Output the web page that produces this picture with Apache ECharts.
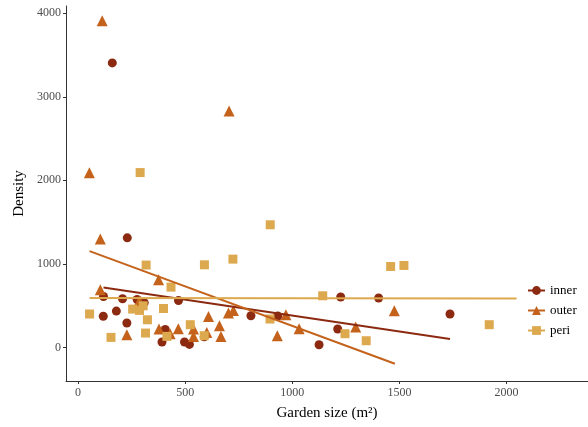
<!DOCTYPE html>
<html><head><meta charset="utf-8">
<script src="https://cdn.jsdelivr.net/npm/echarts@6/dist/echarts.min.js"></script>
<style>html,body{margin:0;padding:0;background:#fff}#c{width:588px;height:427px}</style>
</head><body><div id="c"></div>
<script>
var groups = ['inner', 'outer', 'peri'];
var innerPts = [[160,3406],[230,1312],[118,373],[179,435],[228,292],[119,610],[208,583],[276,574],[309,535],[392,65],[407,215],[469,562],[497,65],[520,36],[589,128],[807,379],[932,376],[1125,32],[1212,220],[1226,603],[1403,591],[1736,400]];
var outerPts = [[113,3909],[705,2830],[53,2090],[104,1298],[104,690],[376,810],[286,555],[228,152],[378,220],[430,164],[468,224],[539,220],[539,132],[609,371],[601,179],[660,260],[667,132],[702,411],[725,443],[930,140],[970,391],[1032,224],[1296,244],[1476,439]];
var periPts = [[290,2093],[897,1468],[318,986],[590,989],[723,1057],[1459,969],[1521,981],[1142,618],[1246,164],[1345,80],[1919,272],[896,340],[54,400],[154,120],[255,459],[287,443],[304,498],[324,331],[315,172],[399,466],[434,722],[415,132],[524,272],[589,140]];
var innerFit = [[119,718],[1736,100]];
var outerFit = [[54,1153],[1479,-195]];
var periFit = [[54,593],[2047,586]];
var xTicks = [0,500,1000,1500,2000];
var yTicks = [0,1000,2000,3000,4000];

var colors = {inner:'#8B2A10', outer:'#C4621B', peri:'#DDA94F'};
var shapes = {inner:'circle', outer:'triangle', peri:'rect'};
var sizes = {inner:9, outer:11, peri:9};
var pts = {inner:innerPts, outer:outerPts, peri:periPts};
var fits = {inner:innerFit, outer:outerFit, peri:periFit};
var font = '"Liberation Serif", "DejaVu Serif", serif';

var series = [];
groups.forEach(function(g){
  series.push({name:g, type:'line', data:fits[g], showSymbol:false, symbol:shapes[g], symbolSize:sizes[g],
    lineStyle:{color:colors[g], width:2}, itemStyle:{color:colors[g]}, z:3, silent:true, animation:false});
});
groups.forEach(function(g){
  series.push({name:g, type:'scatter', data:pts[g], symbol:shapes[g], symbolSize:sizes[g],
    itemStyle:{color:colors[g], opacity:1}, z:2, animation:false});
});

function plain(v){ return String(v); }

var chart = echarts.init(document.getElementById('c'));
chart.setOption({
  backgroundColor:'#fff',
  animation:false,
  grid:{left:66, right:0, top:6, bottom:46, containLabel:false},
  legend:{data:groups, orient:'vertical', left:522, top:279, itemGap:7, itemWidth:17, itemHeight:11,
    textStyle:{fontFamily:font, fontSize:13, color:'#000'}},
  xAxis:{type:'value', min:-56, max:2380, name:'Garden size (m²)', nameLocation:'middle', nameGap:25,
    nameTextStyle:{fontFamily:font, fontSize:15, color:'#000'},
    axisLine:{show:true, onZero:false, lineStyle:{color:'#333', width:1}},
    axisTick:{show:true, customValues:xTicks, length:3, lineStyle:{color:'#333'}},
    axisLabel:{customValues:xTicks, formatter:plain, fontFamily:font, fontSize:12, color:'#4D4D4D', margin:6},
    splitLine:{show:false}},
  yAxis:{type:'value', min:-402, max:4087, name:'Density', nameLocation:'middle', nameGap:39,
    nameTextStyle:{fontFamily:font, fontSize:15, color:'#000'},
    axisLine:{show:true, onZero:false, lineStyle:{color:'#333', width:1}},
    axisTick:{show:true, customValues:yTicks, length:3, lineStyle:{color:'#333'}},
    axisLabel:{customValues:yTicks, formatter:plain, fontFamily:font, fontSize:12, color:'#4D4D4D', margin:5},
    splitLine:{show:false}},
  series:series
});
</script></body></html>
